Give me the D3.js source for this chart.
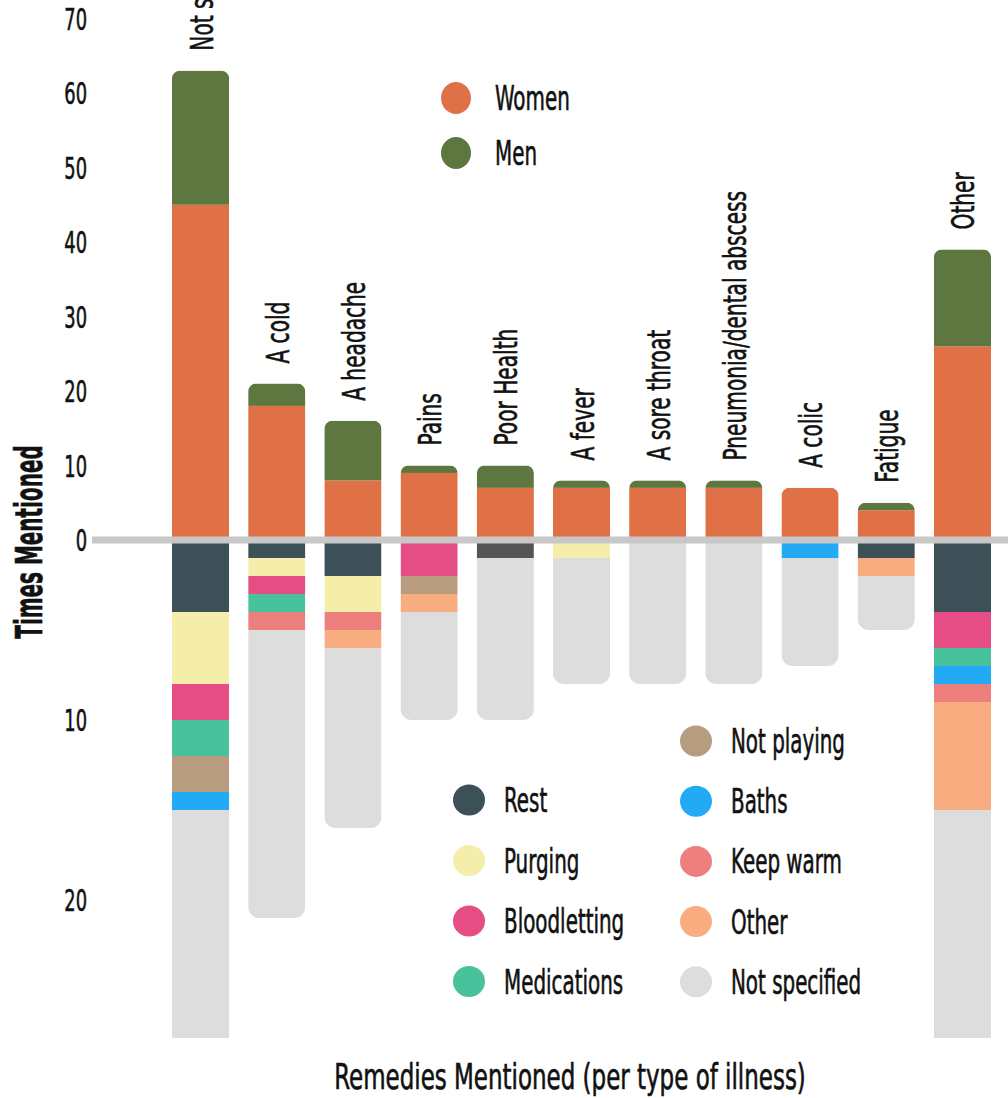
<!DOCTYPE html>
<html>
<head>
<meta charset="utf-8">
<script src="https://cdn.jsdelivr.net/npm/d3@7"></script>
<style>
  body { margin: 0; background: #fff; }
  text { font-family: "DejaVu Sans Condensed", "DejaVu Sans", sans-serif; fill: #111; stroke: #111; stroke-width: 0.6; }
</style>
</head>
<body>
<svg id="chart" width="1008" height="1098"></svg>
<script>
let svg = d3.select("#chart");

//! DATA
let categories = ["Not specified", "A cold", "A headache", "Pains", "Poor Health", "A fever",
    "A sore throat", "Pneumonia/dental abscess", "A colic", "Fatigue", "Other"];

// times mentioned, split by gender (upper half)
let women = [45, 18, 8, 9, 7, 7, 7, 7, 7, 4, 26];
let men   = [18, 3, 8, 1, 3, 1, 1, 1, 0, 1, 13];

// remedies mentioned (lower half)
let rest         = [4, 1, 2, 0, 0, 0, 0, 0, 0, 1, 4];
let unlabelled   = [0, 0, 0, 0, 1, 0, 0, 0, 0, 0, 0];
let purging      = [4, 1, 2, 0, 0, 1, 0, 0, 0, 0, 0];
let bloodletting = [2, 1, 0, 2, 0, 0, 0, 0, 0, 0, 2];
let medications  = [2, 1, 0, 0, 0, 0, 0, 0, 0, 0, 1];
let notPlaying   = [2, 0, 0, 1, 0, 0, 0, 0, 0, 0, 0];
let baths        = [1, 0, 0, 0, 0, 0, 0, 0, 1, 0, 1];
let keepWarm     = [0, 1, 1, 0, 0, 0, 0, 0, 0, 0, 1];
let otherRemedy  = [0, 0, 1, 1, 0, 0, 0, 0, 0, 1, 6];
let notSpecified = [48, 16, 10, 6, 9, 7, 8, 8, 6, 3, 24];

let upperTicks = [0, 10, 20, 30, 40, 50, 60, 70];
let lowerTicks = [10, 20];

let genderKeys = ["Women", "Men"];
let genderColors = ["#e07046", "#5e7740"];

let remedyKeys = ["Unlabelled", "Rest", "Purging", "Bloodletting", "Medications", "Not playing",
    "Baths", "Keep warm", "Other", "Not specified"];
let remedyColors = ["#545454", "#3d4f57", "#f5eeaa", "#e54d84", "#48c29a", "#b89c80",
    "#22aaf5", "#ee7f7f", "#f8ac80", "#dddddd"];

//? Build rows for d3.stack
let upperRows = categories.map(function (c, i) {
    return { cat: c, Women: women[i], Men: men[i] };
});
let lowerRows = categories.map(function (c, i) {
    return {
        cat: c, "Unlabelled": unlabelled[i], "Rest": rest[i], "Purging": purging[i],
        "Bloodletting": bloodletting[i], "Medications": medications[i], "Not playing": notPlaying[i],
        "Baths": baths[i], "Keep warm": keepWarm[i], "Other": otherRemedy[i], "Not specified": notSpecified[i]
    };
});

let upperStack = d3.stack().keys(genderKeys)(upperRows);
let lowerStack = d3.stack().keys(remedyKeys)(lowerRows);

//? Scales
let zeroY = 540;
let bottomY = 1038;
let x = d3.scaleBand().domain(categories).range([172, 991]).paddingInner(0.25).paddingOuter(0);
let yUp = d3.scaleLinear().domain([0, 70]).range([zeroY, 18.5]);
let yLow = d3.scaleLinear().domain([0, 10]).range([zeroY, zeroY + 180]);
let lowMax = yLow.invert(bottomY);
yLow.domain([0, lowMax]).range([zeroY, bottomY]).clamp(true);

let totalsUp = categories.map(function (c, i) { return women[i] + men[i]; });
let totalsLow = lowerRows.map(function (r) {
    return d3.sum(remedyKeys, function (k) { return r[k]; });
});

// condensed text: squeeze glyphs horizontally (along the reading direction)
let squeeze = 0.67;
function label(parent, str, px, py, size, rot, anchor, sx) {
    return parent.append("text")
        .attr("transform", "translate(" + px + "," + py + ")" + (rot ? " rotate(" + rot + ")" : "") +
            " scale(" + (sx || squeeze) + ",1)")
        .attr("font-size", size)
        .attr("text-anchor", anchor || "start")
        .text(str);
}

//? Clip paths for rounded ends
let defs = svg.append("defs");
categories.forEach(function (c, i) {
    let top = yUp(totalsUp[i]);
    defs.append("clipPath").attr("id", "cu" + i)
        .append("rect")
        .attr("x", x(c)).attr("y", top)
        .attr("width", x.bandwidth()).attr("height", zeroY - top + 30)
        .attr("rx", 8);
    let cut = totalsLow[i] >= lowMax;
    let bot = yLow(totalsLow[i]);
    defs.append("clipPath").attr("id", "cl" + i)
        .append("rect")
        .attr("x", x(c)).attr("y", zeroY - 20)
        .attr("width", x.bandwidth()).attr("height", bot - zeroY + 20 + (cut ? 30 : 0))
        .attr("rx", 11);
});
defs.append("clipPath").attr("id", "page")
    .append("rect").attr("x", 0).attr("y", 0).attr("width", 1008).attr("height", bottomY);

//? Bars
let bars = svg.append("g").attr("clip-path", "url(#page)");
categories.forEach(function (c, i) {
    let gu = bars.append("g").attr("clip-path", "url(#cu" + i + ")");
    upperStack.forEach(function (layer, k) {
        let d = layer[i];
        if (d[1] - d[0] <= 0) return;
        gu.append("rect")
            .attr("x", x(c))
            .attr("y", yUp(d[1]))
            .attr("width", x.bandwidth())
            .attr("height", yUp(d[0]) - yUp(d[1]))
            .attr("fill", genderColors[k]);
    });
    let gl = bars.append("g").attr("clip-path", "url(#cl" + i + ")");
    lowerStack.forEach(function (layer, k) {
        let d = layer[i];
        if (d[1] - d[0] <= 0) return;
        gl.append("rect")
            .attr("x", x(c))
            .attr("y", yLow(d[0]))
            .attr("width", x.bandwidth())
            .attr("height", yLow(d[1]) - yLow(d[0]))
            .attr("fill", remedyColors[k]);
    });
});

//? Zero line
svg.append("line")
    .attr("x1", 92).attr("x2", 1008)
    .attr("y1", zeroY).attr("y2", zeroY)
    .attr("stroke", "#c8c8c8").attr("stroke-width", 7);

//? Axis labels
let axisLeft = svg.append("g");
upperTicks.forEach(function (t) {
    label(axisLeft, t, 87, yUp(t) + 11, 31, 0, "end", 0.64);
});
lowerTicks.forEach(function (t) {
    label(axisLeft, t, 87, yLow(t) + 11, 31, 0, "end", 0.64);
});

//? Category labels
let catG = svg.append("g");
categories.forEach(function (c, i) {
    label(catG, c, x(c) + x.bandwidth() / 2 + 12, yUp(totalsUp[i]) - 20, 32, -90, "start", 0.7);
});

//? Titles
label(svg, "Times Mentioned", 42, 542, 37, -90, "middle", 0.6).attr("font-weight", "bold");
label(svg, "Remedies Mentioned (per type of illness)", 570, 1089, 35, 0, "middle", 0.73);

//? Gender legend
let lg = svg.append("g");
genderKeys.forEach(function (k, i) {
    let cy = 98 + i * 55;
    lg.append("ellipse").attr("cx", 456).attr("cy", cy)
        .attr("rx", 15).attr("ry", 16).attr("fill", genderColors[i]);
    label(lg, k, 495, cy + 12, 33, 0, "start");
});

//? Remedy legend
let leftCol = ["Rest", "Purging", "Bloodletting", "Medications"];
let rightCol = ["Not playing", "Baths", "Keep warm", "Other", "Not specified"];
let rl = svg.append("g");
function legendItem(name, cx, cy) {
    let idx = remedyKeys.indexOf(name);
    rl.append("ellipse").attr("cx", cx).attr("cy", cy)
        .attr("rx", 16).attr("ry", 15.5).attr("fill", remedyColors[idx]);
    label(rl, name, cx + 35, cy + 12, 33, 0, "start");
}
leftCol.forEach(function (n, i) { legendItem(n, 469, 800 + i * 60.5); });
rightCol.forEach(function (n, i) { legendItem(n, 696, 741 + i * 60.2); });
</script>
</body>
</html>
